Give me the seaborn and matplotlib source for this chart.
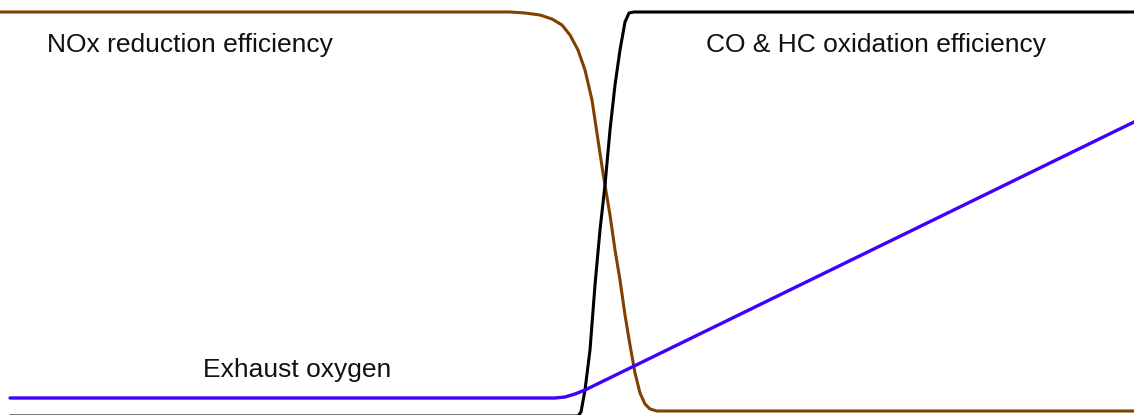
import matplotlib
matplotlib.use("Agg")
import matplotlib.pyplot as plt
import seaborn as sns

# positions along the horizontal axis and heights above the bottom edge
nox_x = [0, 510, 525, 540, 552, 562, 570, 578, 585, 592, 598, 603, 610, 615,
         620, 625, 630, 635, 640, 645, 650, 657, 1134]
nox_y = [403, 403, 402, 400, 396, 390, 380, 365, 345, 315, 275, 242, 200, 165,
         135, 100, 70, 42, 22, 11, 6, 4, 4]

co_x = [10, 578, 581, 585, 590, 595, 600, 605, 610, 615, 620, 625, 629, 634,
        1134]
co_y = [-1, -1, 3, 25, 65, 130, 185, 230, 285, 330, 365, 393, 402, 403, 403]

o2_x = [10, 555, 565, 575, 585, 1134]
o2_y = [17, 17, 18, 21, 25, 293]

labels = ["NOx reduction efficiency", "CO & HC oxidation efficiency",
          "Exhaust oxygen"]

sns.set_style("white")
plt.rcParams['font.family'] = ['Liberation Sans', 'DejaVu Sans']

fig = plt.figure(figsize=(11.34, 4.15), dpi=100)
ax = fig.add_axes([0, 0, 1, 1])

sns.lineplot(x=nox_x, y=nox_y, color="#804000", linewidth=2.2,
             sort=False, estimator=None, ax=ax)
sns.lineplot(x=co_x, y=co_y, color="black", linewidth=2.2,
             sort=False, estimator=None, ax=ax)
sns.lineplot(x=o2_x, y=o2_y, color="#4000ff", linewidth=2.4,
             sort=False, estimator=None, ax=ax)

ax.text(190, 363, labels[0], fontsize=19, ha="center", va="baseline", color="#111111")
ax.text(876, 363, labels[1], fontsize=19, ha="center", va="baseline", color="#111111")
ax.text(297, 38, labels[2], fontsize=19, ha="center", va="baseline", color="#111111")

ax.set_xlim(0, 1134)
ax.set_ylim(0, 415)
ax.axis("off")

fig.savefig("out.png", dpi=100, facecolor="white")
